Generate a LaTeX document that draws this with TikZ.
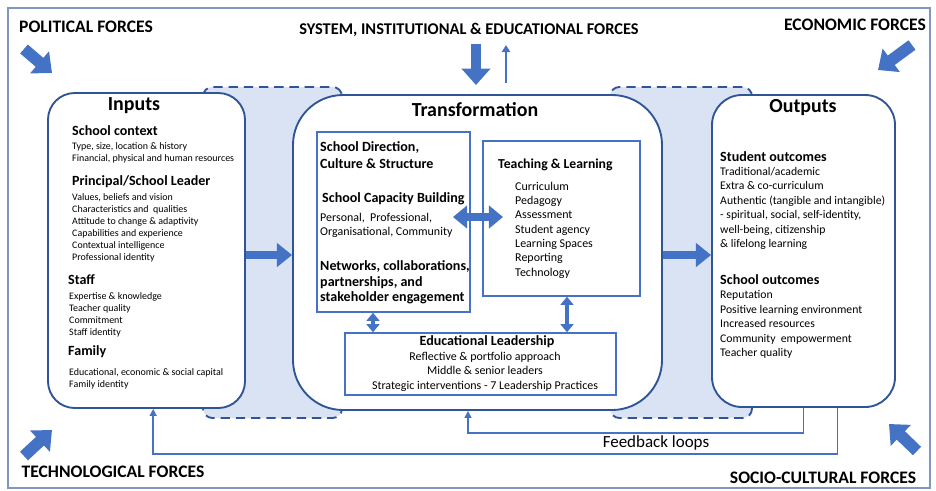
\documentclass[tikz,border=0pt]{standalone}
\usepackage{fontspec}
\setmainfont{Carlito}
\usetikzlibrary{arrows.meta,positioning}
\definecolor{dkblue}{HTML}{2F5597}
\definecolor{midblue}{HTML}{4472C4}
\definecolor{blobfill}{HTML}{DAE3F3}
\definecolor{framecol}{HTML}{7F96BE}
\begin{document}
\begin{tikzpicture}[
   x=0.03cm, y=-0.03cm,
   box/.style={draw=dkblue, line width=1.6pt, fill=white},
   inner/.style={draw=midblue, line width=1.2pt, fill=white},
   blob/.style={draw=dkblue, line width=1.6pt, dashed, dash pattern=on 8pt off 5pt, fill=blobfill, rounded corners=8pt},
   fat/.style={draw=midblue, line width=7pt, -{Triangle[width=20pt,length=13pt]}},
   twoway/.style={draw=midblue, line width=6pt, {Triangle[width=19pt,length=12pt]}-{Triangle[width=19pt,length=12pt]}},
   thin2way/.style={draw=midblue, line width=3pt, {Triangle[width=11pt,length=7pt]}-{Triangle[width=11pt,length=7pt]}},
   force/.style={draw=midblue, line width=10pt, -{Triangle[width=24pt,length=14pt]}},
   fb/.style={draw=midblue, line width=1.3pt, -{Triangle[width=6pt,length=6pt]}},
   title/.style={font=\fontsize{17}{19}\selectfont\bfseries, inner sep=0},
   label/.style={font=\fontsize{15}{17}\selectfont\bfseries, inner sep=0},
   sub/.style={font=\fontsize{12}{14.5}\selectfont\bfseries, inner sep=0, anchor=west, align=left},
   item/.style={font=\fontsize{8.5}{10.2}\selectfont, inner sep=0, anchor=west, align=left},
   list/.style={font=\fontsize{10.2}{12.2}\selectfont, inner sep=0, anchor=west, align=left}
]
\useasboundingbox (0,0) rectangle (936,490);
% frame
\draw[framecol, line width=0.9pt] (8,8) rectangle (930,488);

% shaded links behind the boxes
\draw[blob] (203,87) rectangle (342,418);
\draw[blob] (610,87) rectangle (752,418);

% main boxes
\node[box, rounded corners=0.8cm, minimum width=5.91cm, minimum height=9.45cm] (inp) at (146.5,250.5) {};
\node[box, rounded corners=1.5cm, minimum width=11.07cm, minimum height=9.45cm] (trans) at (477.5,252.5) {};
\node[box, rounded corners=0.9cm, minimum width=5.49cm, minimum height=9.36cm] (outp) at (803.5,251) {};

% inner boxes
\node[inner, minimum width=4.59cm, minimum height=5.4cm] (dir) at (393.5,222) {};
\node[inner, minimum width=4.71cm, minimum height=4.65cm] (tl) at (561.5,218.5) {};
\node[inner, minimum width=8.13cm, minimum height=1.86cm] (edl) at (480.5,364) {};

% Inputs
\node[title] (inptitle) at (134,106) {Inputs};
\node[sub] (ctx) at (72,131) {School context};
\node[item] (ctxi) at (72,152.5) {Type, size, location \& history\\Financial, physical and human resources};
\node[sub] (lead) at (72,182) {Principal/School Leader};
\node[item] (leadi) at (72,227.5) {Values, beliefs and vision\\Characteristics and\ \ qualities\\Attitude to change \& adaptivity\\Capabilities and experience\\Contextual intelligence\\Professional identity};
\node[sub] (staff) at (68,280) {Staff};
\node[item] (staffi) at (69,315) {Expertise \& knowledge\\Teacher quality\\Commitment\\Staff identity};
\node[sub] (fam) at (68,352) {Family};
\node[item] (fami) at (69,378.5) {Educational, economic \& social capital\\Family identity};

% Transformation
\node[title] (transtitle) at (475,110) {Transformation};
\node[sub] (sdir) at (320,155.5) {School Direction,\\Culture \& Structure};
\node[sub] (cap) at (322,199) {School Capacity Building};
\node[item, font=\fontsize{10.2}{12}\selectfont] (capi) at (320,225) {Personal,\ \ Professional,\\Organisational, Community};
\node[sub, font=\fontsize{12}{13.2}\selectfont\bfseries] (net) at (320,282.5) {Networks, collaborations,\\partnerships, and\\stakeholder engagement};
\node[sub, font=\fontsize{11.7}{14}\selectfont\bfseries] (tlt) at (498,165) {Teaching \& Learning};
\node[list] (tli) at (515,230) {Curriculum\\Pedagogy\\Assessment\\Student agency\\Learning Spaces\\Reporting\\Technology};
\node[sub, anchor=center] (edlt) at (487,342) {Educational Leadership};
\node[list, anchor=center, align=center, font=\fontsize{10.2}{12.4}\selectfont] (edli) at (485,371.5) {Reflective \& portfolio approach\\Middle \& senior leaders\\Strategic interventions - 7 Leadership Practices};

% Outputs
\node[title] (outtitle) at (803,108) {Outputs};
\node[sub] (stu) at (720,157) {Student outcomes};
\node[list, font=\fontsize{10}{12.3}\selectfont] (stui) at (720,208.5) {Traditional/academic\\Extra \& co-curriculum\\Authentic (tangible and intangible)\\- spiritual, social, self-identity,\\well-being, citizenship\\\& lifelong learning};
\node[sub] (sch) at (720,280) {School outcomes};
\node[list, font=\fontsize{10}{12.3}\selectfont] (schi) at (720,324.5) {Reputation\\Positive learning environment\\Increased resources\\Community\ \ empowerment\\Teacher quality};

% arrows between boxes
\draw[fat] (inp.east |- 0,255) -- (trans.west |- 0,255);
\draw[fat] (trans.east |- 0,255) -- (outp.west |- 0,255);
\draw[twoway] (453,217) -- (503,217);
\draw[thin2way] (dir.south -| 373,0) -- (edl.north -| 373,0);
\draw[thin2way] (tl.south -| 567,0) -- (edl.north -| 567,0);

% feedback loops
\draw[fb] (outp.south) -- ++(0,25) -| ([xshift=-0.285cm]trans.south);
\draw[fb] ([xshift=1.02cm]outp.south) -- ++(0,46) -| ([xshift=0.2cm]inp.south);
\node[font=\fontsize{14.5}{16}\selectfont, inner sep=0] (fbl) at (656,443) {Feedback loops};

% forces
\node[label] (pol) at (86,27) {POLITICAL FORCES};
\node[label, font=\fontsize{14}{16}\selectfont\bfseries] (sys) at (469,30) {SYSTEM, INSTITUTIONAL \& EDUCATIONAL FORCES};
\node[label] (eco) at (855,25) {ECONOMIC FORCES};
\node[label] (tech) at (113,472) {TECHNOLOGICAL FORCES};
\node[label] (soc) at (823,478) {SOCIO-CULTURAL FORCES};
\draw[force] (24,49) -- (52,73);
\draw[force] (912,45) -- (878,70);
\draw[force] (24,456) -- (52,430);
\draw[force] (917,451) -- (889,424);
\coordinate (sysin) at (476,85);
\coordinate (sysout) at (506,45);
\draw[draw=midblue, line width=9pt, -{Triangle[width=24pt,length=14pt]}] (sys.south -| 476,0) ++(0,7) -- (sysin);
\draw[draw=midblue, line width=2.2pt, -{Triangle[width=7pt,length=6pt]}] (trans.north -| 506,0) ++(0,-11) -- (sysout);
\end{tikzpicture}
\end{document}
